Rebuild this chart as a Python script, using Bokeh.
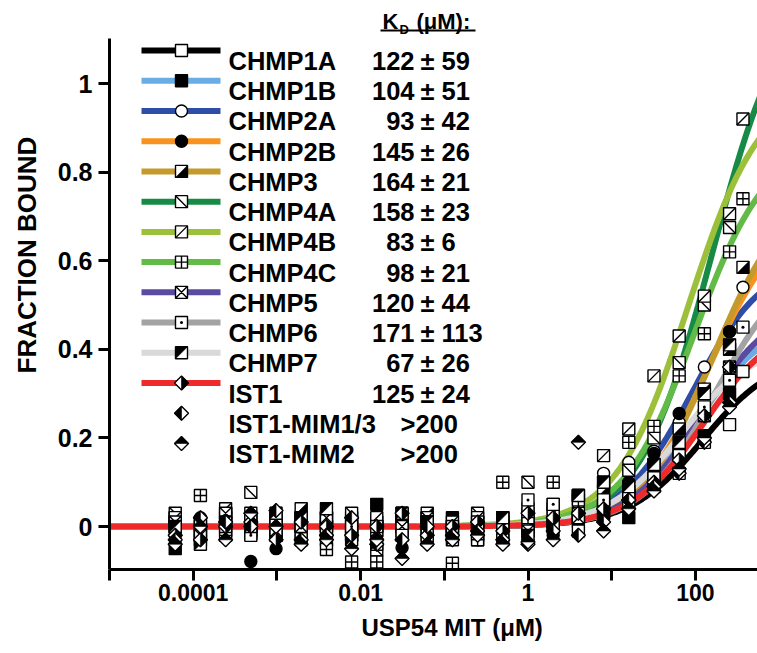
import math
import numpy as np
from bokeh.plotting import figure
from bokeh.models import FixedTicker, Title
from bokeh.core.properties import value
from bokeh.embed import file_html
from bokeh.resources import INLINE

# ------------------------------------------------------------------ data
conc = [0.000061, 0.000122, 0.000244, 0.000488, 0.000977, 0.00195, 0.00391, 0.00781,
        0.0156, 0.0313, 0.0625, 0.125, 0.25, 0.5, 1, 2, 4, 8, 16, 32, 64, 128, 256, 370]

names = ["CHMP1A", "CHMP1B", "CHMP2A", "CHMP2B", "CHMP3", "CHMP4A", "CHMP4B",
         "CHMP4C", "CHMP5", "CHMP6", "CHMP7", "IST1", "IST1-MIM1/3", "IST1-MIM2"]
kd_value = ["122", "104", "93", "145", "164", "158", "83", "98", "120", "171", "67", "125",
            ">200", ">200"]
kd_error = ["± 59", "± 51", "± 42", "± 26", "± 21", "± 23", "± 6", "± 21", "± 44", "± 113",
            "± 26", "± 24", "", ""]
kd_fit = [122, 104, 93, 145, 164, 158, 83, 98, 120, 171, 67, 125]
bmax_fit = [0.39, 0.475, 0.61, 0.72, 0.77, 1.23, 1.0, 0.875, 0.51, 0.60, 0.415, 0.466]
line_colors = ["#000000", "#6aade4", "#2e4da7", "#f7931e", "#c49a2c", "#178a45",
               "#9dc03b", "#62bb47", "#5b4aa2", "#a3a3a3", "#d9d9d9", "#ee2a2a"]
marker_kinds = ["sq_open", "sq_fill", "ci_open", "ci_fill", "sq_lr", "sq_bslash",
                "sq_slash", "sq_cross", "sq_x", "sq_dot", "sq_ul", "dia_r", "dia_l", "dia_t"]

y_chmp1a = [0.01, -0.03, 0.02, 0.03, -0.02, 0.0, 0.02, -0.01, 0.01, 0.02, -0.03, 0.0, -0.02, 0.01, 0.03, 0.0, 0.02, 0.03, 0.05, 0.09, 0.12, 0.19, 0.23, 0.35]
y_chmp1b = [-0.05, -0.02, 0.01, -0.01, 0.02, -0.03, 0.0, -0.02, 0.05, 0.01, -0.01, 0.02, -0.03, 0.0, -0.01, 0.01, 0.02, 0.03, 0.02, 0.10, 0.17, 0.205, 0.30, None]
y_chmp2a = [0.0, 0.02, -0.02, 0.01, 0.03, -0.01, 0.0, 0.02, -0.02, 0.01, 0.0, -0.03, 0.02, 0.01, 0.02, 0.02, 0.05, 0.12, 0.145, 0.17, 0.235, 0.36, 0.44, 0.54]
y_chmp2b = [-0.03, 0.0, 0.01, -0.079, -0.05, 0.02, -0.01, 0.0, -0.03, -0.048, 0.01, -0.02, -0.03, 0.0, -0.03, -0.02, 0.0, 0.05, 0.10, 0.165, 0.255, 0.31, 0.44, None]
y_chmp3 = [0.02, -0.01, 0.03, 0.0, -0.02, 0.04, -0.03, 0.02, 0.0, -0.01, 0.03, -0.02, 0.01, -0.02, 0.0, 0.05, 0.07, 0.08, 0.08, 0.14, 0.22, 0.31, 0.40, 0.585]
y_chmp4a = [0.03, 0.01, -0.01, 0.077, 0.0, -0.02, 0.02, 0.03, -0.053, 0.0, 0.02, -0.01, 0.03, 0.02, 0.10, 0.04, 0.03, 0.05, 0.127, 0.20, 0.37, 0.50, 0.675, None]
y_chmp4b = [0.02, 0.0, 0.04, 0.01, -0.01, 0.02, 0.0, -0.02, 0.02, 0.03, 0.0, 0.01, 0.02, 0.0, 0.04, 0.03, 0.07, 0.16, 0.22, 0.34, 0.43, 0.52, 0.706, 0.92]
y_chmp4c = [0.0, 0.07, -0.02, -0.016, 0.01, 0.0, -0.052, -0.08, -0.08, 0.01, -0.02, -0.083, -0.03, 0.10, 0.02, 0.10, 0.06, 0.10, 0.19, 0.226, 0.34, 0.435, 0.62, 0.74]
y_chmp5 = [0.01, -0.02, 0.03, 0.02, -0.01, 0.0, 0.02, 0.01, -0.01, 0.0, 0.02, -0.01, 0.0, 0.02, -0.01, 0.01, 0.02, 0.05, 0.07, 0.11, 0.17, 0.25, 0.36, None]
y_chmp6 = [-0.01, 0.01, 0.0, -0.02, 0.01, 0.02, -0.01, 0.0, 0.0, -0.02, 0.01, 0.0, 0.01, -0.03, 0.06, 0.05, -0.01, 0.06, 0.07, 0.11, 0.16, 0.27, 0.33, 0.45]
y_chmp7 = [0.0, -0.04, 0.01, 0.0, 0.03, 0.02, 0.04, -0.03, -0.04, 0.03, 0.01, -0.03, 0.0, 0.02, -0.02, 0.0, 0.07, 0.10, 0.09, 0.14, 0.19, 0.30, 0.41, None]
y_ist1 = [-0.02, -0.03, 0.0, 0.01, -0.03, 0.01, 0.0, -0.02, 0.0, 0.03, -0.02, 0.0, 0.01, -0.01, 0.03, 0.02, 0.03, 0.04, 0.06, 0.10, 0.15, 0.25, 0.36, None]
y_ist1_mim13 = [-0.03, 0.02, 0.01, 0.0, 0.036, -0.03, -0.02, 0.02, -0.04, -0.03, 0.0, -0.02, -0.01, -0.03, -0.04, -0.01, -0.02, 0.01, 0.06, 0.09, 0.12, 0.19, 0.28, None]
y_ist1_mim2 = [-0.04, 0.0, -0.03, 0.03, 0.0, -0.04, -0.03, -0.05, -0.03, -0.072, -0.04, -0.03, -0.02, -0.04, -0.035, -0.03, 0.19, -0.01, 0.04, 0.08, 0.13, 0.20, 0.27, None]

series_y = [y_chmp1a, y_chmp1b, y_chmp2a, y_chmp2b, y_chmp3, y_chmp4a, y_chmp4b,
            y_chmp4c, y_chmp5, y_chmp6, y_chmp7, y_ist1, y_ist1_mim13, y_ist1_mim2]

# ------------------------------------------------------------------ layout
W, HGT = 757, 653
LEFT, BOTTOM = 109, 84
FRAME_W, FRAME_H = W - LEFT, HGT - BOTTOM
X0 = 1e-5
PXD = 83.7                       # pixels per decade
X1 = 10 ** (math.log10(X0) + FRAME_W / PXD)
PXU = 443.0                      # pixels per unit of fraction bound
Y1 = 526.0 / PXU
Y0 = Y1 - FRAME_H / PXU

FONT = value("Liberation Sans")

p = figure(width=W, height=HGT, x_axis_type="log", x_range=(X0, X1), y_range=(Y0, Y1),
           min_border_left=LEFT, min_border_right=0, min_border_top=0,
           min_border_bottom=BOTTOM, output_backend="svg", toolbar_location=None)
p.outline_line_color = None
p.xgrid.visible = False
p.ygrid.visible = False


def dxp(px):   # page-pixel x -> data x (annotation layout only)
    return 10 ** (math.log10(X0) + (px - LEFT) / PXD)


def dyp(py):   # page-pixel y -> data y
    return Y1 - py / PXU


# ------------------------------------------------------------------ axes
for ax in (p.xaxis[0], p.yaxis[0]):
    ax.axis_line_width = 3
    ax.axis_line_color = "black"
    ax.major_tick_line_width = 3
    ax.minor_tick_line_width = 3
    ax.major_tick_out = 11
    ax.major_tick_in = 0
    ax.minor_tick_in = 0
    ax.major_label_text_font = "Liberation Sans"
    ax.major_label_text_font_style = "bold"
    ax.major_label_text_color = "black"

p.xaxis.ticker = FixedTicker(ticks=[1e-4, 1e-2, 1, 100], minor_ticks=[1e-5, 1e-3, 0.1, 10])
p.xaxis.minor_tick_out = 11
p.xaxis.major_label_overrides = {1e-4: "0.0001", 0.01: "0.01", 1: "1", 100: "100"}
p.xaxis.major_label_text_font_size = "23px"
p.xaxis.major_label_standoff = 3

p.yaxis.ticker = FixedTicker(ticks=[0, 0.2, 0.4, 0.6, 0.8, 1])
p.yaxis.minor_tick_out = 0
p.yaxis.major_label_overrides = {0: "0", 1: "1"}
p.yaxis.major_label_text_font_size = "25px"
p.yaxis.major_label_standoff = 6
p.yaxis.bounds = (Y0, 1.1016)

# axis titles as side titles (allow offsets like the reference)
xt = Title(text="USP54 MIT (μM)", align="left", offset=252, standoff=17,
           text_font="Liberation Sans", text_font_style="bold", text_font_size="24px",
           text_color="black")
p.add_layout(xt, "below")
yt = Title(text="FRACTION BOUND", align="left", offset=196, standoff=22, vertical_align="top",
           text_font="Liberation Sans", text_font_style="bold", text_font_size="26px",
           text_color="black")
p.add_layout(yt, "left")

# ------------------------------------------------------------------ fit curves
xfit = np.logspace(math.log10(X0), math.log10(X1) + 0.05, 400)
for k, b, c in zip(kd_fit, bmax_fit, line_colors):
    p.line(xfit, b * xfit / (k + xfit), line_color=c, line_width=6)

# ------------------------------------------------------------------ markers
S = 12.0
HS = S / 2
R = 7.0
HALF = {
    "sq_lr": [(-HS, -HS), (HS, -HS), (HS, HS)],
    "sq_ul": [(-HS, -HS), (-HS, HS), (HS, HS)],
    "dia_r": [(0, R), (R, 0), (0, -R)],
    "dia_l": [(0, R), (-R, 0), (0, -R)],
    "dia_t": [(-R, 0), (0, R), (R, 0)],
    "dia_b": [(-R, 0), (0, -R), (R, 0)],
}


def draw_markers(kind, xs, ys):
    kw = dict(line_color="black", line_width=1.4)
    if kind == "sq_open":
        p.scatter(xs, ys, marker="square", size=S, fill_color="white", **kw)
    elif kind == "sq_fill":
        p.scatter(xs, ys, marker="square", size=S, fill_color="black", **kw)
    elif kind == "ci_open":
        p.scatter(xs, ys, marker="circle", size=S, fill_color="white", **kw)
    elif kind == "ci_fill":
        p.scatter(xs, ys, marker="circle", size=S, fill_color="black", **kw)
    elif kind == "sq_cross":
        p.scatter(xs, ys, marker="square_cross", size=S, fill_color="white", **kw)
    elif kind == "sq_x":
        p.scatter(xs, ys, marker="square_x", size=S, fill_color="white", **kw)
    elif kind == "sq_dot":
        p.scatter(xs, ys, marker="square_dot", size=S, fill_color="white", **kw)
    elif kind in ("sq_slash", "sq_bslash"):
        p.scatter(xs, ys, marker="square", size=S, fill_color="white", **kw)
        ang = math.pi / 4 if kind == "sq_slash" else -math.pi / 4
        p.scatter(xs, ys, marker="dash", size=S * math.sqrt(2), angle=ang, **kw)
    else:
        if kind.startswith("sq"):
            p.scatter(xs, ys, marker="square", size=S, fill_color="white", **kw)
        else:
            p.scatter(xs, ys, marker="square", size=R * math.sqrt(2), angle=math.pi / 4,
                      fill_color="white", **kw)
        pxs, pys = [], []
        for xv, yv in zip(xs, ys):
            pxs.append([xv * 10 ** (ox / PXD) for ox, oy in HALF[kind]])
            pys.append([yv + oy / PXU for ox, oy in HALF[kind]])
        p.patches(pxs, pys, fill_color="black", line_color="black", line_width=0.6)


for kind, ys in zip(marker_kinds, series_y):
    xs = [c for c, v in zip(conc, ys) if v is not None]
    yv = [v for v in ys if v is not None]
    draw_markers(kind, xs, yv)

# ------------------------------------------------------------------ legend (drawn)
rows = [50 + 30.23 * i for i in range(len(names))]
for i, c in enumerate(line_colors):
    p.line([dxp(141), dxp(220)], [dyp(rows[i])] * 2, line_color=c, line_width=6)
for i, kind in enumerate(marker_kinds):
    draw_markers(kind, [dxp(181)], [dyp(rows[i])])

tkw = dict(text_font=FONT, text_font_style="bold", text_font_size="25.5px",
           text_baseline="alphabetic", text_color="black")
p.text(x=[dxp(228)] * len(names), y=[dyp(r + 10.5) for r in rows], text=names,
       text_align="left", **tkw)
num_i = [i for i in range(len(names)) if kd_error[i]]
gt_i = [i for i in range(len(names)) if not kd_error[i]]
p.text(x=[dxp(414)] * len(num_i), y=[dyp(rows[i] + 10.5) for i in num_i],
       text=[kd_value[i] for i in num_i], text_align="right", **tkw)
p.text(x=[dxp(420)] * len(num_i), y=[dyp(rows[i] + 10.5) for i in num_i],
       text=[kd_error[i] for i in num_i], text_align="left", **tkw)
p.text(x=[dxp(400)] * len(gt_i), y=[dyp(rows[i] + 10.5) for i in gt_i],
       text=[kd_value[i] for i in gt_i], text_align="left", **tkw)

# header  K_D (uM):
hkw = dict(text_font=FONT, text_font_style="bold", text_baseline="alphabetic",
           text_color="black", text_align="left")
p.text(x=[dxp(382)], y=[dyp(21)], text=["K"], text_font_size="22px", **hkw)
p.text(x=[dxp(399)], y=[dyp(29)], text=["D"], text_font_size="13px", **hkw)
p.text(x=[dxp(416)], y=[dyp(21)], text=["(μM):"], text_font_size="22px", **hkw)
p.line([dxp(380), dxp(475)], [dyp(30), dyp(30)], line_color="black", line_width=2)

open("out.html", "w").write(file_html(p, INLINE))
